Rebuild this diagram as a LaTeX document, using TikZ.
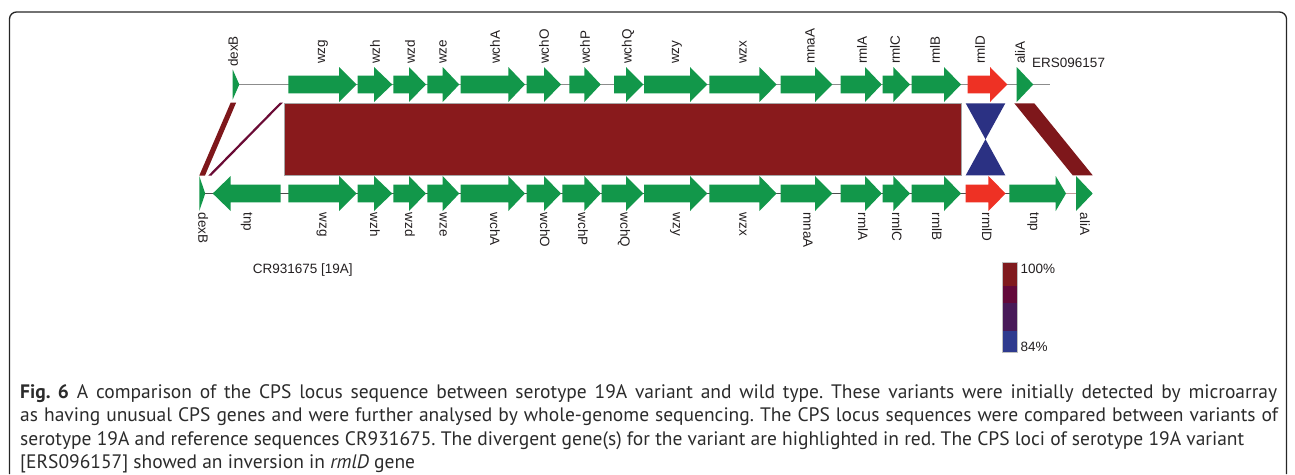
\documentclass[tikz,border=0pt]{standalone}
\usepackage{fontspec}
\setmainfont{Liberation Sans}
\newfontfamily\capfont{PT Sans}
\frenchspacing
\definecolor{genegreen}{HTML}{12974A}
\definecolor{genered}{HTML}{EE3124}
\definecolor{blockred}{HTML}{891A1C}
\definecolor{linkred}{HTML}{7E171B}
\definecolor{linkmaroon}{HTML}{6A0B35}
\definecolor{invblue}{HTML}{2B3183}
\definecolor{legA}{HTML}{801A1E}
\definecolor{legB}{HTML}{63093A}
\definecolor{legC}{HTML}{481A58}
\definecolor{legD}{HTML}{2E3A8E}
\definecolor{txt}{HTML}{231F20}
\definecolor{captxt}{HTML}{2B2B2B}
\tikzset{
  lab/.style={inner sep=0pt, text=txt, font=\fontsize{13.5}{16}\selectfont},
  toplab/.style={lab, rotate=90, anchor=west},
  botlab/.style={lab, rotate=-90, anchor=west},
  capline/.style={inner sep=0pt, anchor=base west, text=captxt, font=\capfont\fontsize{19.5}{23.5}\selectfont},
}
% right-pointing gene: start, head base, tip, centre y, colour
\newcommand\rgene[5]{\fill[#5] (#1,#4-8.8) -- (#2,#4-8.8) -- (#2,#4-17.5) -- (#3,#4) -- (#2,#4+17.5) -- (#2,#4+8.8) -- (#1,#4+8.8) -- cycle;}
% left-pointing gene: tip, head base, end, centre y, colour
\newcommand\lgene[5]{\fill[#5] (#1,#4) -- (#2,#4-17.5) -- (#2,#4-8.8) -- (#3,#4-8.8) -- (#3,#4+8.8) -- (#2,#4+8.8) -- (#2,#4+17.5) -- cycle;}
% triangle: start, tip, centre y, half height, colour
\newcommand\tgene[5]{\fill[#5] (#1,#3-#4) -- (#2,#3) -- (#1,#3+#4) -- cycle;}
\begin{document}
\begin{tikzpicture}[x=1pt,y=-1pt]
\useasboundingbox (0,0) rectangle (1295,474);
% frame
\draw[line width=1.3pt, color=black!85, rounded corners=7pt] (9.5,474) -- (9.5,12) -- (1286.5,12) -- (1286.5,474);

% ---------- comparison blocks ----------
\fill[linkred] (230.7,102.5) -- (236.2,102.5) -- (205,175.5) -- (199.3,175.5) -- cycle;
\fill[linkmaroon] (280,102.5) -- (283,102.5) -- (211.5,175.5) -- (208.3,175.5) -- cycle;
\filldraw[fill=blockred, draw=black!35, line width=0.4pt] (284.3,103.3) rectangle (961,175.3);
\fill[invblue] (965.7,103.3) -- (1005.3,103.3) -- (965.7,175.3) -- (1005.3,175.3) -- cycle;
\fill[linkred] (1014.3,103.3) -- (1034.3,103.3) -- (1092.7,175.3) -- (1072.7,175.3) -- cycle;

% ---------- top track (ERS096157) ----------
\draw[line width=1.4pt, color=black!45] (233,84.5) -- (1050,84.5);
\tgene{232.7}{239.3}{84.5}{15}{genegreen}
\rgene{288.3}{339}{356.7}{84.5}{genegreen}
\rgene{357.7}{374}{392.3}{84.5}{genegreen}
\rgene{393.3}{409}{426}{84.5}{genegreen}
\rgene{427.3}{442.7}{459.3}{84.5}{genegreen}
\rgene{460.7}{508.3}{525}{84.5}{genegreen}
\rgene{526.7}{544}{561}{84.5}{genegreen}
\rgene{569.3}{584.3}{600.7}{84.5}{genegreen}
\rgene{614}{626}{643.3}{84.5}{genegreen}
\rgene{644}{690}{707.3}{84.5}{genegreen}
\rgene{709.3}{759.3}{776.7}{84.5}{genegreen}
\rgene{780.7}{815}{832.3}{84.5}{genegreen}
\rgene{840.7}{865}{881.7}{84.5}{genegreen}
\rgene{882.7}{893.3}{910}{84.5}{genegreen}
\rgene{911.7}{944}{961}{84.5}{genegreen}
\rgene{967.7}{990}{1007.3}{84.5}{genered}
\tgene{1016.7}{1033.3}{84.5}{17.5}{genegreen}

\node[toplab] (t-dexB) at (233,67) {dexB};
\node[toplab] (t-wzg) at (323,64) {wzg};
\node[toplab] (t-wzh) at (375,64) {wzh};
\node[toplab] (t-wzd) at (410,64) {wzd};
\node[toplab] (t-wze) at (443,64) {wze};
\node[toplab] (t-wchA) at (495,64) {wchA};
\node[toplab] (t-wchO) at (544,64) {wchO};
\node[toplab] (t-wchP) at (585,64) {wchP};
\node[toplab] (t-wchQ) at (628,64) {wchQ};
\node[toplab] (t-wzy) at (677,64) {wzy};
\node[toplab] (t-wzx) at (743,64) {wzx};
\node[toplab] (t-mnaA) at (810,64) {mnaA};
\node[toplab] (t-rmlA) at (862,64) {rmlA};
\node[toplab] (t-rmlC) at (895,64) {rmlC};
\node[toplab] (t-rmlB) at (935,64) {rmlB};
\node[toplab] (t-rmlD) at (980,64) {rmlD};
\node[toplab] (t-aliA) at (1020,64) {aliA};
\node[lab, anchor=west] (ers) at (1032,62.7) {ERS096157};

% ---------- bottom track (CR931675) ----------
\draw[line width=1pt, color=black!70] (205,193.5) -- (1066,193.5);
\draw[line width=1pt, color=red!40!black!40] (1066,193.5) -- (1076,193.5);
\tgene{199.3}{205.2}{193.5}{17.5}{genegreen}
\lgene{212.7}{230.7}{280.7}{193.5}{genegreen}
\rgene{288.3}{339}{356.7}{193.5}{genegreen}
\rgene{357.7}{374}{392.3}{193.5}{genegreen}
\rgene{393.3}{409}{426}{193.5}{genegreen}
\rgene{427.3}{442.7}{459.3}{193.5}{genegreen}
\rgene{460.7}{508.3}{525}{193.5}{genegreen}
\rgene{526.7}{544}{561}{193.5}{genegreen}
\rgene{562.3}{584.3}{600.7}{193.5}{genegreen}
\rgene{601.7}{626}{643.3}{193.5}{genegreen}
\rgene{644}{690}{707.3}{193.5}{genegreen}
\rgene{709.3}{759.3}{776.7}{193.5}{genegreen}
\rgene{780.7}{815}{832.3}{193.5}{genegreen}
\rgene{840.7}{865}{881.7}{193.5}{genegreen}
\rgene{882.7}{893.3}{910}{193.5}{genegreen}
\rgene{911.7}{944}{961}{193.5}{genegreen}
\rgene{965.7}{988.3}{1005.7}{193.5}{genered}
\rgene{1009.3}{1055.7}{1066}{193.5}{genegreen}
\tgene{1076}{1092.7}{193.5}{17.5}{genegreen}

\node[botlab] (b-dexB) at (203.3,212.5) {dexB};
\node[botlab] (b-tnp) at (246.7,212.5) {tnp};
\node[botlab] (b-wzg) at (321.7,212.5) {wzg};
\node[botlab] (b-wzh) at (375,212.5) {wzh};
\node[botlab] (b-wzd) at (410,212.5) {wzd};
\node[botlab] (b-wze) at (443.3,212.5) {wze};
\node[botlab] (b-wchA) at (495,212.5) {wchA};
\node[botlab] (b-wchO) at (545,212.5) {wchO};
\node[botlab] (b-wchP) at (583,212.5) {wchP};
\node[botlab] (b-wchQ) at (624,212.5) {wchQ};
\node[botlab] (b-wzy) at (675,212.5) {wzy};
\node[botlab] (b-wzx) at (743,212.5) {wzx};
\node[botlab] (b-mnaA) at (808,212.5) {mnaA};
\node[botlab] (b-rmlA) at (863,212.5) {rmlA};
\node[botlab] (b-rmlC) at (897,212.5) {rmlC};
\node[botlab] (b-rmlB) at (937,212.5) {rmlB};
\node[botlab] (b-rmlD) at (987,212.5) {rmlD};
\node[botlab] (b-tnp2) at (1033,212.5) {tnp};
\node[botlab] (b-aliA) at (1085,212.5) {aliA};
\node[lab, anchor=west] (cr) at (252.7,270) {CR931675 [19A]};

% ---------- legend ----------
\fill[legA] (1001.7,261.7) rectangle (1017.3,286);
\fill[legB] (1001.7,286) rectangle (1017.3,303.3);
\fill[legC] (1001.7,303.3) rectangle (1017.3,331);
\fill[legD] (1001.7,331) rectangle (1017.3,351.7);
\draw[line width=0.4pt, color=black!25] (1001.7,261.7) rectangle (1017.3,351.7);
\node[lab, anchor=west] (l100) at (1020.5,269) {100\%};
\node[lab, anchor=west] (l84) at (1020.5,346.7) {84\%};

% ---------- caption ----------
\node[capline] (c1) at (20,398.3) {\makebox[1257pt][s]{\textbf{Fig.~6} A comparison of the CPS locus sequence between serotype 19A variant and wild type. These variants were initially detected by microarray}};
\node[capline] (c2) at (20,421.7) {\makebox[1258pt][s]{as having unusual CPS genes and were further analysed by whole-genome sequencing. The CPS locus sequences were compared between variants of}};
\node[capline] (c3) at (20,445.1) {serotype 19A and reference sequences CR931675. The divergent gene(s) for the variant are highlighted in red. The CPS loci of serotype 19A variant};
\node[capline] (c4) at (20,468.5) {[ERS096157] showed an inversion in \textit{rmlD} gene};
\end{tikzpicture}
\end{document}
